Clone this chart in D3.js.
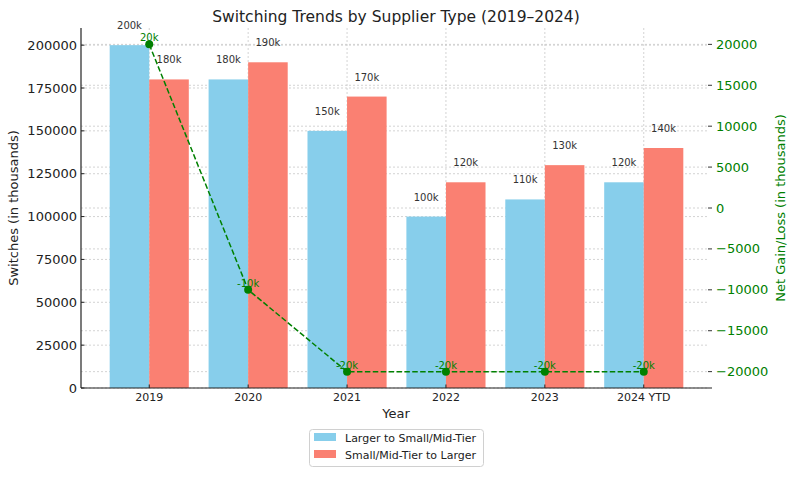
<!DOCTYPE html>
<html><head><meta charset="utf-8">
<script src="https://d3js.org/d3.v7.min.js"></script>
<style>body{margin:0;background:#fff}svg{display:block;font-family:"DejaVu Sans",sans-serif}</style>
</head><body><svg id="c" width="795" height="477"></svg>
<script>
const categories = ["2019","2020","2021","2022","2023","2024 YTD"];
const largerToSmall = [200000,180000,150000,100000,110000,120000];
const smallToLarger = [180000,190000,170000,120000,130000,140000];
const netGain = [20000,-10000,-20000,-20000,-20000,-20000];
const leftTicks = [0,25000,50000,75000,100000,125000,150000,175000,200000];
const rightTicks = [-20000,-15000,-10000,-5000,0,5000,10000,15000,20000];
const seriesNames = ["Larger to Small/Mid-Tier","Small/Mid-Tier to Larger"];
const colors = ["#87CEEB","#FA8072"];

const svg = d3.select("#c");
const L=81,R=712,T=28,B=388;
const x = d3.scaleLinear().domain([-0.69,5.69]).range([L,R]);
const yL = d3.scaleLinear().domain([0,210000]).range([B,T]);
const yR = d3.scaleLinear().domain([-22000,22000]).range([B,T]);
const bw = x(0.4)-x(0);
const fmtK = v => Math.trunc(v/1000)+"k";

// grid
const g = svg.append("g");
g.selectAll(".gl").data(leftTicks).join("line").attr("x1",L).attr("x2",R-4)
 .attr("y1",d=>yL(d)).attr("y2",d=>yL(d)).attr("stroke","#c8c8c8").attr("stroke-width",0.8).attr("stroke-dasharray","2,2");
g.selectAll(".gr").data(rightTicks).join("line").attr("x1",L).attr("x2",R-4)
 .attr("y1",d=>yR(d)).attr("y2",d=>yR(d)).attr("stroke","#c8c8c8").attr("stroke-width",0.8).attr("stroke-dasharray","2,2");
g.selectAll(".gv").data(categories).join("line").attr("x1",(d,i)=>x(i)).attr("x2",(d,i)=>x(i))
 .attr("y1",T).attr("y2",B).attr("stroke","#c8c8c8").attr("stroke-width",0.8).attr("stroke-dasharray","2,2");

// bars
[largerToSmall, smallToLarger].forEach((vals,s)=>{
  svg.append("g").selectAll("rect").data(vals).join("rect")
   .attr("x",(d,i)=>x(i)-bw+s*bw).attr("width",bw)
   .attr("y",d=>yL(d)).attr("height",d=>B-yL(d)).attr("fill",colors[s]);
  svg.append("g").selectAll("text").data(vals).join("text")
   .attr("x",(d,i)=>x(i)-bw/2+s*bw).attr("y",d=>yL(d)-16)
   .attr("text-anchor","middle").attr("font-size",10).attr("fill","#333").text(fmtK);
});

// axes spines
svg.append("line").attr("x1",L).attr("x2",L).attr("y1",T).attr("y2",B).attr("stroke","#222").attr("stroke-width",1.2);
svg.append("line").attr("x1",L).attr("x2",R).attr("y1",B).attr("y2",B).attr("stroke","#222").attr("stroke-width",1.2);

// left ticks
const lt = svg.append("g");
lt.selectAll("line").data(leftTicks).join("line").attr("x1",L).attr("x2",L+3.5)
 .attr("y1",d=>yL(d)).attr("y2",d=>yL(d)).attr("stroke","#222");
lt.selectAll("text").data(leftTicks).join("text").attr("x",L-4).attr("y",d=>yL(d)+4.5)
 .attr("text-anchor","end").attr("font-size",13).attr("fill","#222").text(d=>d);
// right ticks
const rt = svg.append("g");
rt.selectAll("line").data(rightTicks).join("line").attr("x1",R-4).attr("x2",R)
 .attr("y1",d=>yR(d)).attr("y2",d=>yR(d)).attr("stroke","#333");
rt.selectAll("text").data(rightTicks).join("text").attr("x",R+4).attr("y",d=>yR(d)+4.5)
 .attr("font-size",13).attr("fill","green").text(d=>String(d).replace("-","\u2212"));
// x ticks
const xt = svg.append("g");
xt.selectAll("line").data(categories).join("line").attr("x1",(d,i)=>x(i)).attr("x2",(d,i)=>x(i))
 .attr("y1",B).attr("y2",B-3.5).attr("stroke","#222");
xt.selectAll("text").data(categories).join("text").attr("x",(d,i)=>x(i)).attr("y",401)
 .attr("text-anchor","middle").attr("font-size",11).attr("fill","#222").text(d=>d);

// line
const line = d3.line().x((d,i)=>x(i)).y(d=>yR(d));
svg.append("path").datum(netGain).attr("d",line).attr("fill","none").attr("stroke","green")
 .attr("stroke-width",1.5).attr("stroke-dasharray","5.5,2.4");
svg.append("g").selectAll("circle").data(netGain).join("circle").attr("cx",(d,i)=>x(i)).attr("cy",d=>yR(d))
 .attr("r",4).attr("fill","green");
svg.append("g").selectAll("text").data(netGain).join("text").attr("x",(d,i)=>x(i)).attr("y",d=>yR(d)-3)
 .attr("text-anchor","middle").attr("font-size",10).attr("fill","green").text(fmtK);

// labels
svg.append("text").attr("x",396).attr("y",22).attr("text-anchor","middle").attr("font-size",15.5).attr("fill","#222")
 .text("Switching Trends by Supplier Type (2019\u20132024)");
svg.append("text").attr("x",396).attr("y",418).attr("text-anchor","middle").attr("font-size",13).attr("fill","#222").text("Year");
svg.append("text").attr("transform",`translate(18,${(T+B)/2}) rotate(-90)`).attr("text-anchor","middle")
 .attr("font-size",13).attr("fill","#222").text("Switches (in thousands)");
svg.append("text").attr("transform",`translate(785,${(T+B)/2}) rotate(-90)`).attr("text-anchor","middle")
 .attr("font-size",13).attr("fill","green").text("Net Gain/Loss (in thousands)");

// legend
const lg = svg.append("g");
lg.append("rect").attr("x",309.5).attr("y",429.5).attr("width",174).attr("height",37).attr("rx",3)
 .attr("fill","#fff").attr("stroke","#d0d0d0");
seriesNames.forEach((n,i)=>{
  lg.append("rect").attr("x",314).attr("y",433+i*17).attr("width",22).attr("height",8).attr("fill",colors[i]);
  lg.append("text").attr("x",345).attr("y",441.5+i*17).attr("font-size",11).attr("fill","#222").text(n);
});
</script></body></html>
